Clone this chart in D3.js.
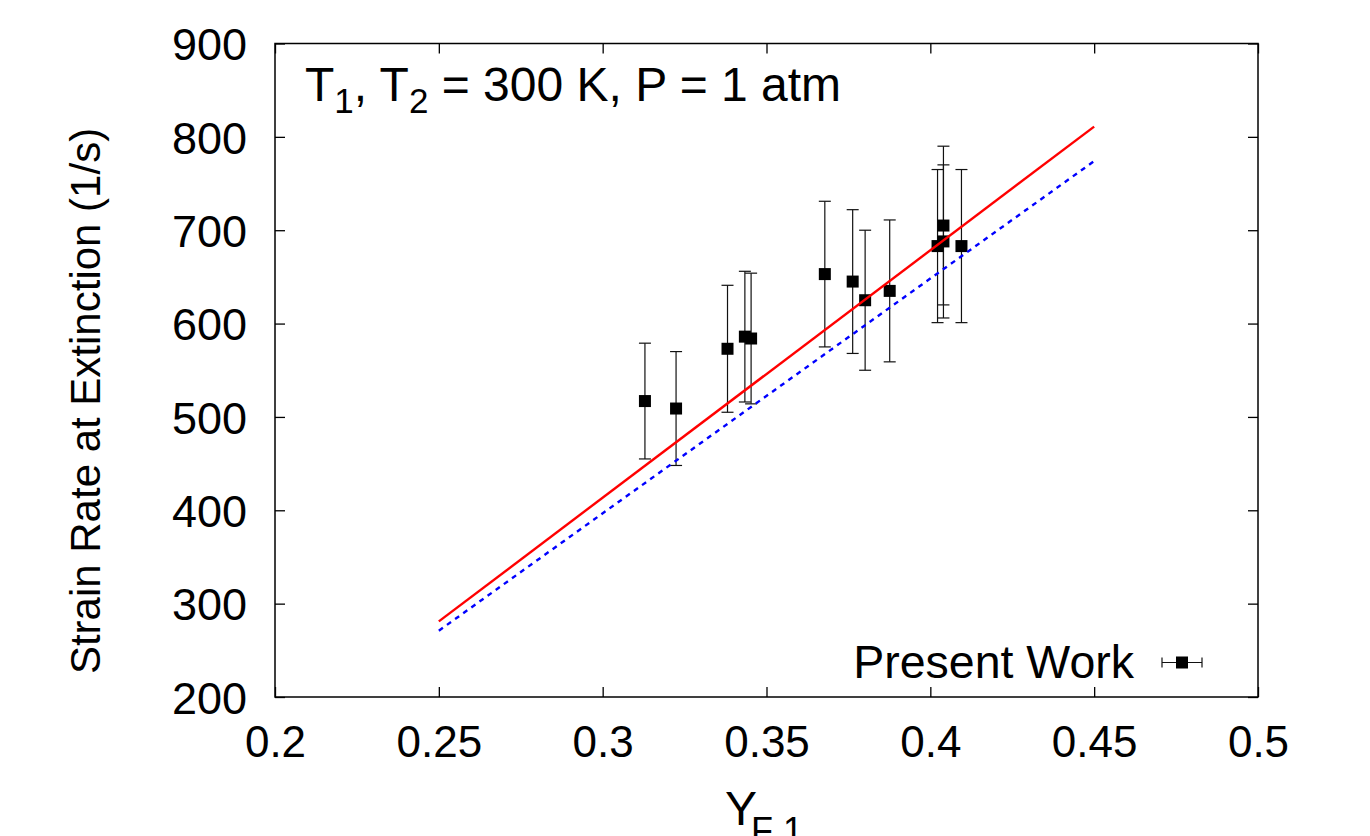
<!DOCTYPE html>
<html lang="en">
<head>
<meta charset="UTF-8">
<title>Strain Rate at Extinction</title>
<script src="https://d3js.org/d3.v7.min.js"></script>
<style>
  body { margin: 0; background: #fff; }
  text { font-family: "Liberation Sans", Arial, sans-serif; fill: #000; }
</style>
</head>
<body>
<svg id="chart" width="1370" height="836"></svg>
<script>
// measured points (Present Work)
const yF1 = [0.3129, 0.3224, 0.3381, 0.3434, 0.3453, 0.3678, 0.3763, 0.3801, 0.3876, 0.4022, 0.4040, 0.4040, 0.4095];
const strainRate = [517, 509, 573, 586, 584, 653, 645, 625, 635, 683, 705, 688, 683];
const strainErr = [62, 61, 68, 70, 70, 78, 77, 75, 76, 82, 85, 82, 82];

// computed curves (two straight lines)
const lineX = [0.25, 0.45];
const redY = [281, 811];
const blueY = [271, 774];

const xTicks = [0.2, 0.25, 0.3, 0.35, 0.4, 0.45, 0.5];
const yTicks = [200, 300, 400, 500, 600, 700, 800, 900];

const svg = d3.select('#chart');
const margin = { top: 43.5, right: 112, bottom: 139, left: 275 };
const W = 1370, H = 836;

const x = d3.scaleLinear().domain([0.2, 0.5]).range([margin.left, W - margin.right]);
const y = d3.scaleLinear().domain([200, 900]).range([H - margin.bottom, margin.top]);

const fmtX = d => String(+d.toFixed(2));

// axes with inward ticks
svg.append('g')
    .attr('transform', `translate(0,${y(200)})`)
    .call(d3.axisBottom(x).tickValues(xTicks).tickSize(-10).tickPadding(29).tickFormat(fmtX))
    .call(g => g.selectAll('text').style('font-size', '44px'));

svg.append('g')
    .attr('transform', `translate(0,${y(900)})`)
    .call(d3.axisTop(x).tickValues(xTicks).tickSize(-10).tickFormat(''));

svg.append('g')
    .attr('transform', `translate(${x(0.2)},0)`)
    .call(d3.axisLeft(y).tickValues(yTicks).tickSize(-10).tickPadding(28))
    .call(g => g.selectAll('text').style('font-size', '45px').attr('dy', '0.36em'));

svg.append('g')
    .attr('transform', `translate(${x(0.5)},0)`)
    .call(d3.axisRight(y).tickValues(yTicks).tickSize(-10).tickFormat(''));

svg.selectAll('.domain').remove();
svg.selectAll('.tick line').attr('stroke', '#000').attr('stroke-width', 1.3);

// frame
svg.append('rect')
    .attr('x', x(0.2)).attr('y', y(900))
    .attr('width', x(0.5) - x(0.2)).attr('height', y(200) - y(900))
    .attr('fill', 'none').attr('stroke', '#000').attr('stroke-width', 1.5);

// data with error bars
const pts = yF1.map((v, i) => ({ x: v, y: strainRate[i], e: strainErr[i] }));
const cap = 6;
const eb = svg.append('g').attr('stroke', '#111').attr('stroke-width', 1.2);
pts.forEach(d => {
    eb.append('line').attr('x1', x(d.x)).attr('x2', x(d.x)).attr('y1', y(d.y - d.e)).attr('y2', y(d.y + d.e));
    eb.append('line').attr('x1', x(d.x) - cap).attr('x2', x(d.x) + cap).attr('y1', y(d.y - d.e)).attr('y2', y(d.y - d.e));
    eb.append('line').attr('x1', x(d.x) - cap).attr('x2', x(d.x) + cap).attr('y1', y(d.y + d.e)).attr('y2', y(d.y + d.e));
});
svg.append('g').selectAll('rect').data(pts).enter().append('rect')
    .attr('x', d => x(d.x) - 6).attr('y', d => y(d.y) - 6)
    .attr('width', 12).attr('height', 12).attr('fill', '#000');

// lines
const line = d3.line().x(d => x(d[0])).y(d => y(d[1]));
svg.append('path')
    .datum(lineX.map((v, i) => [v, redY[i]]))
    .attr('d', line).attr('fill', 'none').attr('stroke', '#ff0000').attr('stroke-width', 2.4);
svg.append('path')
    .datum(lineX.map((v, i) => [v, blueY[i]]))
    .attr('d', line).attr('fill', 'none').attr('stroke', '#0000ff').attr('stroke-width', 2.4)
    .attr('stroke-dasharray', '5,5');

// title inside plot
const title = svg.append('text').attr('x', 305).attr('y', 101).style('font-size', '48px');
title.append('tspan').text('T');
title.append('tspan').attr('dy', 12).style('font-size', '35px').text('1');
title.append('tspan').attr('dy', -12).text(', T');
title.append('tspan').attr('dy', 12).style('font-size', '35px').text('2');
title.append('tspan').attr('dy', -12).text(' = 300 K, P = 1 atm');

// legend
svg.append('text').attr('x', 1134).attr('y', 678).attr('text-anchor', 'end')
    .style('font-size', '46.5px').text('Present Work');
const lg = svg.append('g').attr('stroke', '#111').attr('stroke-width', 1.2);
const ly = 662.5;
lg.append('line').attr('x1', 1162).attr('x2', 1202).attr('y1', ly).attr('y2', ly);
lg.append('line').attr('x1', 1162).attr('x2', 1162).attr('y1', ly - 5).attr('y2', ly + 5);
lg.append('line').attr('x1', 1202).attr('x2', 1202).attr('y1', ly - 5).attr('y2', ly + 5);
svg.append('rect').attr('x', 1176).attr('y', ly - 6).attr('width', 12).attr('height', 12).attr('fill', '#000');

// axis labels
svg.append('text')
    .attr('transform', 'translate(100,401) rotate(-90)')
    .attr('text-anchor', 'middle').style('font-size', '42px')
    .text('Strain Rate at Extinction (1/s)');

const xl = svg.append('text').attr('x', 725).attr('y', 825).style('font-size', '48px');
xl.append('tspan').text('Y');
xl.append('tspan').attr('dx', -6).attr('dy', 18).style('font-size', '36px').text('F 1');
</script>
</body>
</html>
